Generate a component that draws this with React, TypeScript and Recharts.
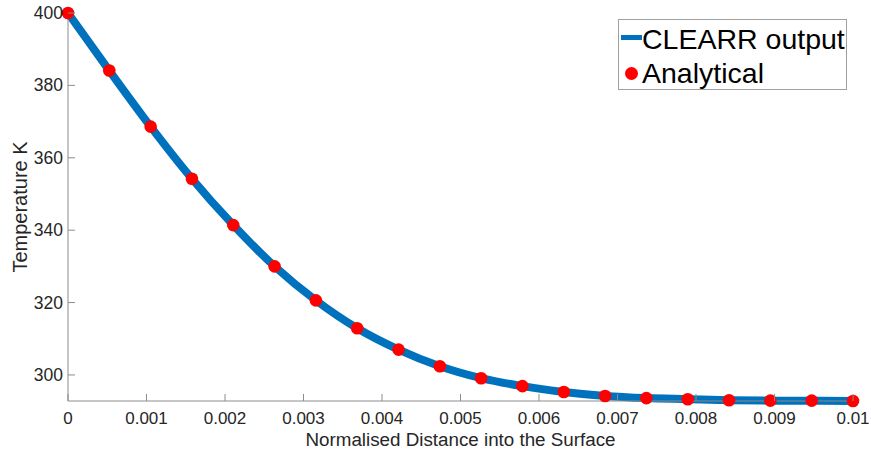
import React from 'react';
import { ComposedChart, Line, XAxis, YAxis, Legend, Label } from 'recharts';

// normalised distance (0 .. 0.01, 20 samples)
const distance = [
  0, 0.000526, 0.001053, 0.001579, 0.002105, 0.002632, 0.003158, 0.003684, 0.004211, 0.004737,
  0.005263, 0.005789, 0.006316, 0.006842, 0.007368, 0.007895, 0.008421, 0.008947, 0.009474, 0.01,
];
const clearrOutput = [
  400, 384.1, 368.6, 354.2, 341.4, 330.0, 320.6, 312.9, 307.0, 302.4,
  299.1, 296.9, 295.3, 294.2, 293.6, 293.3, 293.0, 292.9, 292.9, 292.8,
];
const analytical = [
  400, 384.1, 368.6, 354.2, 341.4, 330.0, 320.6, 312.9, 307.0, 302.4,
  299.1, 296.9, 295.3, 294.2, 293.6, 293.3, 293.0, 292.9, 292.9, 292.8,
];
const xTicks = [0, 0.001, 0.002, 0.003, 0.004, 0.005, 0.006, 0.007, 0.008, 0.009, 0.01];
const yTicks = [300, 320, 340, 360, 380, 400];

const data = distance.map((d, i) => ({ d, clearr: clearrOutput[i], analytical: analytical[i] }));

const FONT = '"Liberation Sans", Arial, sans-serif';
const TEXT = '#262626';
const AXIS = '#8c8c8c';
const TICK_LEN = 7;

const fmtX = (v: number) => (v === 0 ? '0' : String(+v.toFixed(3)));

const BottomTick = ({ x, y, payload }: any) => (
  <g>
    <line x1={x} y1={y} x2={x} y2={y - TICK_LEN} stroke={AXIS} />
    <text x={x} y={y + 23} textAnchor="middle" fill={TEXT} fontSize={17} fontFamily={FONT}>
      {fmtX(payload.value)}
    </text>
  </g>
);

const TopTick = ({ x, y }: any) => <line x1={x} y1={y} x2={x} y2={y + TICK_LEN} stroke={AXIS} />;

const LeftTick = ({ x, y, payload }: any) => (
  <g>
    <line x1={x} y1={y} x2={x + TICK_LEN} y2={y} stroke={AXIS} />
    <text x={x - 5} y={y + 6} textAnchor="end" fill={TEXT} fontSize={17.5} fontFamily={FONT}>
      {payload.value}
    </text>
  </g>
);

const RightTick = ({ x, y }: any) => <line x1={x} y1={y} x2={x - TICK_LEN} y2={y} stroke={AXIS} />;

const renderLegend = () => (
  <div
    style={{
      width: 227,
      height: 69,
      border: '1px solid #a0a0a0',
      background: '#fff',
      fontFamily: FONT,
      fontSize: 28.5,
      color: '#000',
      position: 'relative',
    }}
  >
    <div style={{ position: 'absolute', left: 2, top: 15, width: 21, height: 5, background: '#0072BD' }} />
    <div style={{ position: 'absolute', left: 23, top: 3, lineHeight: '32px', whiteSpace: 'nowrap' }}>CLEARR output</div>
    <div style={{ position: 'absolute', left: 6, top: 47, width: 13, height: 13, borderRadius: 7, background: '#ff0000' }} />
    <div style={{ position: 'absolute', left: 23, top: 37, lineHeight: '32px', whiteSpace: 'nowrap' }}>Analytical</div>
  </div>
);

const App: React.FC = () => (
  <div style={{ position: 'absolute', left: 0, top: 0, width: 871, height: 455, background: '#fff' }}>
    <ComposedChart width={871} height={455} data={data} margin={{ top: 13, right: 18, bottom: 0, left: 0 }}>
      <XAxis
        dataKey="d"
        type="number"
        domain={[0, 0.01]}
        ticks={xTicks}
        height={54}
        stroke={AXIS}
        tickLine={false}
        tickSize={0}
        tickMargin={0}
        tick={<BottomTick />}
        interval={0}
      >
        <Label
          value="Normalised Distance into the Surface"
          position="insideBottom"
          offset={9}
          style={{ fontFamily: FONT, fontSize: 18.8, fill: TEXT }}
        />
      </XAxis>
      <XAxis
        xAxisId="t"
        orientation="top"
        dataKey="d"
        type="number"
        domain={[0, 0.01]}
        ticks={xTicks}
        height={0}
        stroke={AXIS}
        tickLine={false}
        tickSize={0}
        tickMargin={0}
        tick={<TopTick />}
        interval={0}
      />
      <YAxis
        type="number"
        domain={[292.8, 400]}
        ticks={yTicks}
        width={68}
        stroke={AXIS}
        tickLine={false}
        tickSize={0}
        tickMargin={0}
        tick={<LeftTick />}
        interval={0}
      >
        <Label
          value="Temperature K"
          angle={-90}
          position="insideLeft"
          offset={20}
          style={{ fontFamily: FONT, fontSize: 20, fill: TEXT, textAnchor: 'middle' }}
        />
      </YAxis>
      <YAxis
        yAxisId="r"
        orientation="right"
        type="number"
        domain={[292.8, 400]}
        ticks={yTicks}
        width={0}
        stroke={AXIS}
        tickLine={false}
        tickSize={0}
        tickMargin={0}
        tick={<RightTick />}
        interval={0}
      />
      <Legend
        layout="horizontal"
        verticalAlign="middle"
        align="center"
        content={renderLegend}
        wrapperStyle={{ position: 'absolute', left: 618, top: 19, width: 229, height: 71 }}
      />
      <Line
        dataKey="clearr"
        name="CLEARR output"
        type="monotone"
        stroke="#0072BD"
        strokeWidth={8}
        dot={false}
        activeDot={false}
        isAnimationActive={false}
      />
      <Line
        dataKey="analytical"
        name="Analytical"
        stroke="none"
        dot={{ r: 6.3, fill: '#ff0000', stroke: 'none' }}
        activeDot={false}
        isAnimationActive={false}
      />
    </ComposedChart>
  </div>
);

export default App;
